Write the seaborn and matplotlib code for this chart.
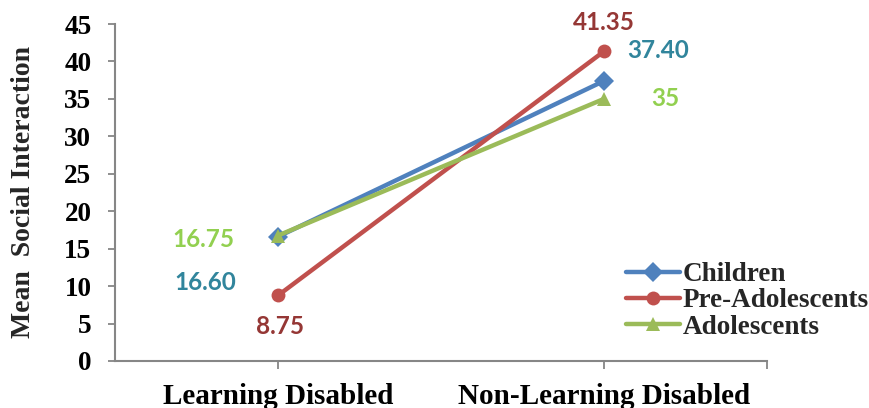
import matplotlib
matplotlib.use("Agg")
import matplotlib.pyplot as plt
import seaborn as sns
import pandas as pd

categories = ["Learning Disabled", "Non-Learning Disabled"]
groups = ["Children", "Pre-Adolescents", "Adolescents"]
children = [16.60, 37.40]
pre_adolescents = [8.75, 41.35]
adolescents = [16.75, 35]
label_text = {
    "Children": ["16.60", "37.40"],
    "Pre-Adolescents": ["8.75", "41.35"],
    "Adolescents": ["16.75", "35"],
}
yticks = [0, 5, 10, 15, 20, 25, 30, 35, 40, 45]

line_colors = {"Children": "#4F81BD", "Pre-Adolescents": "#C0504D", "Adolescents": "#9BBB59"}
label_colors = {"Children": "#31859C", "Pre-Adolescents": "#953735", "Adolescents": "#92D050"}
# label offsets in points (style, not data)
label_offsets = {
    "Children": [(-52.6, -33), (39, 22)],
    "Pre-Adolescents": [(1.4, -22), (0, 21)],
    "Adolescents": [(-54, -2.5), (44, 0.6)],
}

rows = []
for g, vals in zip(groups, [children, pre_adolescents, adolescents]):
    for c, v in zip(categories, vals):
        rows.append({"Group": g, "Category": c, "Value": v})
df = pd.DataFrame(rows)

sns.set_style("white")
plt.rcParams["font.family"] = ["Liberation Serif", "DejaVu Serif"]

fig = plt.figure(figsize=(8.69, 4.08), dpi=100)
ax = fig.add_axes([115 / 869, 47 / 408, 652 / 869, 337 / 408])

sns.lineplot(data=df, x="Category", y="Value", hue="Group", style="Group",
             hue_order=groups, style_order=groups, palette=line_colors,
             markers=["D", "o", "^"], dashes=False, sort=False,
             linewidth=3.2, markersize=10, markeredgewidth=0, ax=ax)

for g, vals in zip(groups, [children, pre_adolescents, adolescents]):
    for i, v in enumerate(vals):
        ax.annotate(label_text[g][i], xy=(i, v), xytext=label_offsets[g][i],
                    textcoords="offset points", ha="center", va="center",
                    fontsize=17.5, fontweight="bold", family="Lato",
                    color=label_colors[g])

ax.set_xlim(-0.5, 1.5)
ax.set_ylim(0, 45)
ax.set_yticks(yticks)
ax.set_yticklabels([str(t) for t in yticks], fontsize=19.5, fontweight="bold")
ax.set_xticks([0, 1])
ax.set_xticklabels(categories, fontsize=21, fontweight="bold")
ax.set_xticks([1.5], minor=True)
ax.tick_params(axis="y", which="both", left=True, length=5, width=1.3,
               color="#868686", pad=12, labelcolor="black")
ax.tick_params(axis="x", which="both", bottom=True, length=6, width=1.3,
               color="#868686", pad=10, labelcolor="black")
ax.set_xlabel("")
ax.set_ylabel("Mean  Social Interaction", fontsize=20, fontweight="bold")
ax.yaxis.set_label_coords(-0.121, 0.5)

for s in ["top", "right"]:
    ax.spines[s].set_visible(False)
for s in ["left", "bottom"]:
    ax.spines[s].set_color("#868686")
    ax.spines[s].set_linewidth(1.5)
ax.grid(False)

handles, labels = ax.get_legend_handles_labels()
leg = ax.legend(handles, labels, loc="upper left",
                bbox_to_anchor=(626 / 869, 1 - 262 / 408),
                bbox_transform=fig.transFigure, frameon=False,
                prop={"family": "Liberation Serif", "weight": "bold", "size": 19.5},
                handlelength=2.0, handletextpad=0.1, labelspacing=0.05,
                borderpad=0, borderaxespad=0)

fig.savefig("out.png", dpi=100)
